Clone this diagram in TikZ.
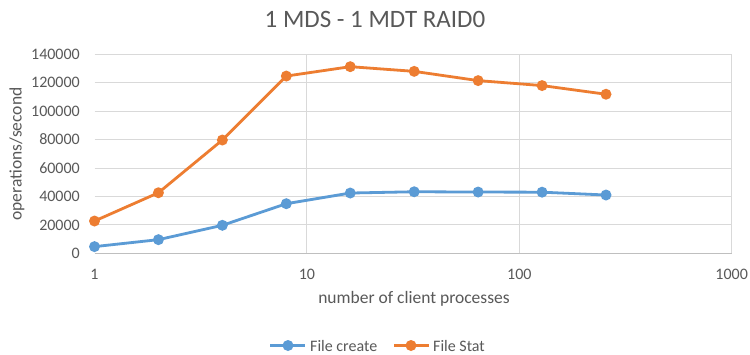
\documentclass[tikz,border=0pt]{standalone}
\usepackage{fontspec}
\setmainfont{Carlito}
\definecolor{txt}{HTML}{595959}
\definecolor{grid}{HTML}{D9D9D9}
\definecolor{axisc}{HTML}{BFBFBF}
\definecolor{sblue}{HTML}{5B9BD5}
\definecolor{sorange}{HTML}{ED7D31}
\tikzset{
  gridline/.style={draw=grid, line width=1pt},
  series/.style={line width=2.8pt, line join=round},
  dot/.style={circle, inner sep=0pt, minimum size=11pt},
  ticklbl/.style={text=txt, font=\fontsize{16}{19}\selectfont, inner sep=0pt},
  axtitle/.style={text=txt, font=\fontsize{17.5}{21}\selectfont, inner sep=0pt},
}
\begin{document}
\begin{tikzpicture}[x=1pt,y=-1pt]
\useasboundingbox (0,0) rectangle (750,354);
\fill[white] (0,0) rectangle (750,354);

\node[text=txt, font=\fontsize{25}{30}\selectfont, inner sep=0pt] (title) at (375,19.5) {1 MDS - 1 MDT RAID0};

% plot area: x in log10 units, y in thousands of operations/second
\begin{scope}[shift={(94.5pt,-253.3pt)}, x=212.4pt, y=1.4214pt]
  \foreach \v in {20,40,...,140} \draw[gridline] (0,\v) -- (3,\v);
  \foreach \d in {1,2,3} \draw[gridline] (\d,0) -- (\d,140);
  \draw[draw=axisc, line width=1pt] (0,0) -- (3,0);

  \foreach \v/\lab in {0/0,20/20000,40/40000,60/60000,80/80000,100/100000,120/120000,140/140000}
    \node[ticklbl, anchor=east] (ylab\v) at ([xshift=-14.5pt]0,\v) {\lab};
  \foreach \d/\lab in {0/1,1/10,2/100,3/1000}
    \node[ticklbl] (xlab\d) at ([yshift=-20.7pt]\d,0) {\lab};

  \draw[series, sblue]
    (0,4.7) coordinate (c1) -- ({log10(2)},9.6) coordinate (c2) -- ({log10(4)},19.7) coordinate (c3)
    -- ({log10(8)},34.9) coordinate (c4) -- ({log10(16)},42.4) coordinate (c5) -- ({log10(32)},43.3) coordinate (c6)
    -- ({log10(64)},43.1) coordinate (c7) -- ({log10(128)},43.0) coordinate (c8) -- ({log10(256)},41.0) coordinate (c9);
  \draw[series, sorange]
    (0,22.7) coordinate (s1) -- ({log10(2)},42.6) coordinate (s2) -- ({log10(4)},79.7) coordinate (s3)
    -- ({log10(8)},124.7) coordinate (s4) -- ({log10(16)},131.3) coordinate (s5) -- ({log10(32)},128.0) coordinate (s6)
    -- ({log10(64)},121.5) coordinate (s7) -- ({log10(128)},118.0) coordinate (s8) -- ({log10(256)},111.9) coordinate (s9);
  \foreach \i in {1,...,9} {
    \node[dot, fill=sblue] at (c\i) {};
    \node[dot, fill=sorange] at (s\i) {};
  }
\end{scope}

\node[axtitle, rotate=90] (ytitle) at (17,154) {operations/second};
\node[axtitle] (xtitle) at (414,299) {number of client processes};

% legend
\coordinate (la) at (270,345.5);
\coordinate (lb) at (305,345.5);
\draw[series, sblue] (la) -- (lb);
\node[dot, fill=sblue] (lda) at (288,345.5) {};
\node[ticklbl, anchor=base west] (lega) at (310,351) {File create};
\coordinate (lc) at (394,345.5);
\coordinate (ld) at (429,345.5);
\draw[series, sorange] (lc) -- (ld);
\node[dot, fill=sorange] (ldb) at (411,345.5) {};
\node[ticklbl, anchor=base west] (legb) at (433,351) {File Stat};
\end{tikzpicture}
\end{document}
